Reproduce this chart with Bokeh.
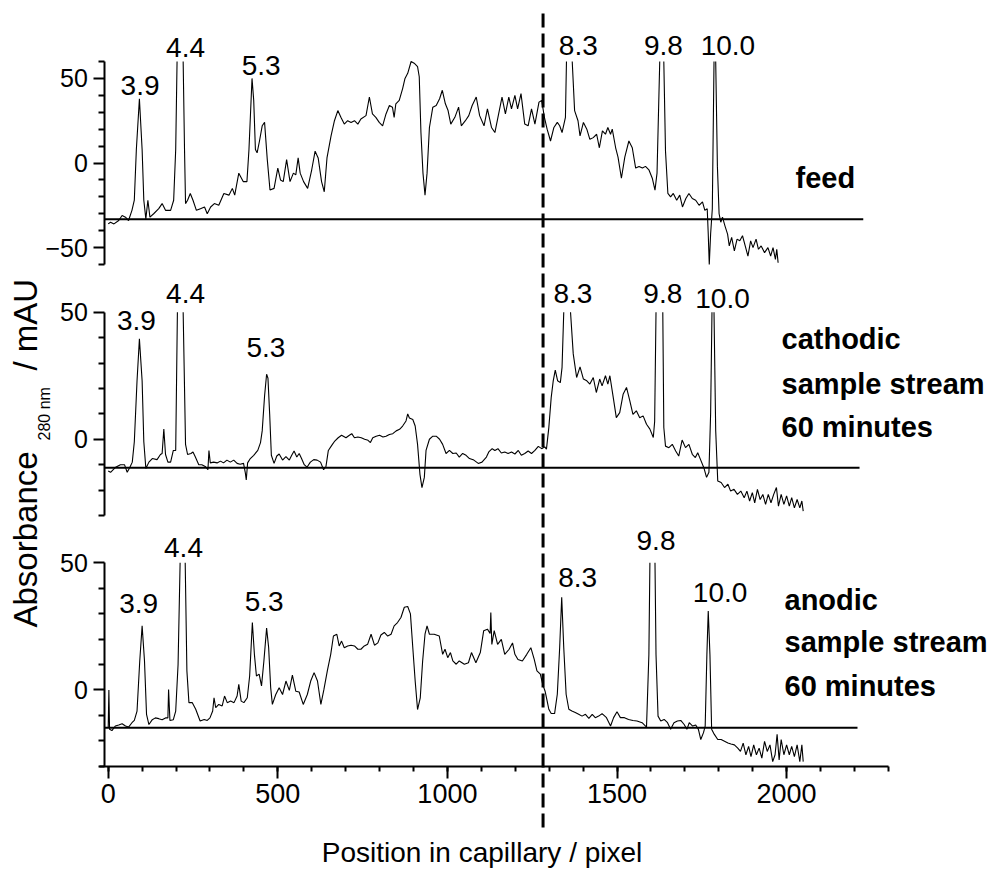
import math
import numpy as np
from bokeh.plotting import figure
from bokeh.models import Range1d, LinearAxis, FixedTicker, SingleIntervalTicker, Label
from bokeh.core.properties import value
from bokeh.embed import file_html
from bokeh.resources import INLINE

# ---------------- data (x = position in capillary / pixel, y = absorbance / mAU) ----------------
# None marks where a trace leaves the top of its panel (peak cut off by the axis limit)
feed_trace = [
    (0, -36), (7, -35), (17, -36), (31, -34), (41, -31), (51, -32), (60, -34), (70, -28), (77, -22),
    (83, 8), (92, 38), (100, 8), (105, -22), (111, -33), (117, -22), (123, -32), (134, -30), (149, -27),
    (159, -24), (169, -28), (184, -28), (193, -22), (199, 8), (203, 60), None, (221, 60), (225, 8),
    (228, -24), (234, -22), (242, -18), (250, -22), (260, -28), (272, -27), (284, -26), (292, -30),
    (302, -26), (313, -24), (326, -25), (341, -18), (356, -19), (366, -15), (373, -19), (385, -6),
    (398, -11), (409, -11), (415, 8), (424, 50), (429, 37), (434, 8), (439, 6), (446, 13), (454, 22),
    (461, 24), (469, 2), (477, -16), (489, -15), (500, -3), (508, -10), (516, -11), (526, 2), (536, -11),
    (546, -6), (553, -7), (560, 3), (566, -6), (576, -11), (588, -15), (600, -4), (610, 7), (619, 3),
    (629, -11), (637, -17), (645, 3), (657, 16), (667, 25), (677, 31), (686, 27), (696, 23), (706, 25),
    (716, 24), (726, 25), (736, 23), (745, 26), (760, 28), (770, 39), (779, 29), (789, 27), (799, 24),
    (809, 22), (819, 29), (829, 34), (838, 33), (843, 27), (848, 35), (858, 37), (868, 44), (875, 50),
    (883, 53), (893, 60), (902, 59), (912, 57), (917, 51), (922, 18), (928, -6), (934, -19), (940, -6),
    (947, 21), (957, 33), (967, 34), (977, 38), (985, 43), (994, 35), (1002, 31), (1010, 23), (1022, 27),
    (1033, 33), (1041, 22), (1053, 25), (1063, 28), (1073, 34), (1085, 39), (1095, 28), (1108, 22),
    (1118, 32), (1130, 21), (1140, 18), (1149, 27), (1161, 39), (1171, 29), (1181, 39), (1189, 32),
    (1199, 40), (1207, 32), (1217, 41), (1228, 23), (1238, 22), (1248, 32), (1258, 23), (1270, 36),
    (1278, 37), (1286, 27), (1294, 20), (1304, 13), (1314, 21), (1324, 24), (1331, 22), (1338, 18),
    (1348, 27), (1351, 60), None, (1368, 60), (1375, 31), (1385, 25), (1391, 16), (1401, 24), (1411, 20),
    (1420, 14), (1430, 15), (1440, 17), (1448, 9), (1457, 19), (1466, 17), (1473, 21), (1481, 17),
    (1486, 20), (1496, 9), (1503, 3.5), (1513, -9), (1523, 3.5), (1535, 13), (1545, 9), (1555, -3),
    (1565, -2), (1575, -3), (1584, -2), (1594, -4), (1604, -9), (1612, -16), (1618, -6), (1626, 60), None,
    (1638, 60), (1643, 7), (1650, -18), (1658, -20), (1666, -18), (1676, -22), (1685, -19), (1693, -26),
    (1703, -21), (1712, -18), (1722, -21), (1732, -22), (1742, -25), (1752, -23), (1759, -28), (1766, -27),
    (1769, -42), (1772, -60), (1776, -42), (1781, -27), (1786, 60), None, (1791, 60), (1796, -2),
    (1801, -30), (1806, -35), (1811, -32), (1818, -37), (1826, -42), (1831, -49), (1838, -44), (1846, -52),
    (1854, -45), (1862, -46), (1870, -43), (1878, -49), (1886, -55), (1894, -46), (1901, -50), (1910, -45),
    (1917, -51), (1925, -49), (1935, -53), (1945, -50), (1953, -55), (1960, -50), (1967, -57), (1971, -51),
    (1975, -59),
]

cathodic_trace = [
    (0, -12.5), (7, -13), (22, -11), (36, -10), (48, -10), (56, -13), (64, -11), (71, -9), (77, -1),
    (85, 23), (92, 39.5), (100, 23), (105, -1), (111, -11.5), (120, -9), (130, -7.6), (144, -8), (154, -6),
    (159, -5.6), (164, 4), (169, -6), (176, -9), (184, -9), (192, -4.4), (199, -4.4), (204, 50), None,
    (221, 50), (228, -2), (234, -6), (244, -5.6), (250, -5), (257, -7), (267, -10), (276, -10),
    (286, -10.7), (294, -12), (297, -4.4), (301, -9.3), (311, -9), (321, -9.3), (331, -8.6), (340, -9.3),
    (350, -8.2), (360, -9), (370, -8.2), (380, -9.5), (389, -9.8), (399, -9.5), (404, -13), (407, -16),
    (411, -9.3), (419, -7.6), (429, -6.3), (441, -4.4), (449, -1.3), (454, 3.3), (461, 17), (467, 25.6),
    (471, 24), (476, 10), (481, -6.3), (489, -9.5), (497, -6.6), (504, -5.8), (514, -8.2), (524, -6.8),
    (534, -8.2), (541, -6.3), (548, -4.6), (556, -7), (563, -5.6), (570, -7.6), (578, -10), (586, -11),
    (596, -9), (606, -8), (616, -8.2), (626, -9), (635, -12), (642, -10.7), (649, -4.4), (659, -2.4),
    (668, -0.7), (678, 0.6), (688, 1.6), (701, 0.6), (711, 1.6), (718, 2.2), (726, 0.6), (736, 0.9),
    (746, 0.6), (756, 0), (766, -0.4), (773, -1.3), (780, 0.6), (790, 1.2), (800, 1.6), (810, 0.9),
    (819, 1.2), (829, 1.9), (839, 2.2), (849, 3.3), (859, 3.9), (868, 5.2), (878, 7.2), (883, 10),
    (888, 8.4), (898, 7.8), (905, 5.2), (912, -2), (919, -13.7), (925, -19), (932, -15), (937, -4.4),
    (947, 0), (957, 1.2), (967, 1.2), (977, 0), (986, -2), (996, -5.6), (1006, -4.4), (1016, -5.6),
    (1026, -5.4), (1035, -7), (1045, -5.6), (1055, -6.3), (1065, -7.6), (1078, -8.2), (1091, -9.5),
    (1102, -9), (1115, -7), (1122, -5), (1132, -3.7), (1140, -4.4), (1149, -3.7), (1159, -5.4),
    (1169, -5), (1179, -5.6), (1189, -5), (1199, -5.8), (1209, -4.4), (1218, -6.3), (1228, -5.6),
    (1238, -4.6), (1248, -5.6), (1258, -4.4), (1268, -2.8), (1278, -3.7), (1287, -3), (1292, -3.9),
    (1299, 4.6), (1306, 16.4), (1312, 23), (1318, 27.2), (1325, 23), (1333, 22.3), (1338, 28.3),
    (1343, 50), None, (1363, 50), (1371, 33.6), (1381, 24.3), (1391, 28.5), (1401, 23.7), (1411, 23),
    (1420, 21.7), (1430, 24.3), (1439, 18.4), (1449, 23.7), (1456, 21), (1466, 25), (1473, 21.7),
    (1479, 25), (1489, 16.4), (1498, 8.5), (1508, 10.5), (1518, 17.7), (1528, 20.4), (1538, 15),
    (1547, 9.8), (1557, 11.2), (1567, 8.5), (1577, 9.2), (1587, 5.9), (1597, 4), (1607, 0.7), (1611, 7),
    (1615, 50), None, (1635, 50), (1638, 4.6), (1643, -2.7), (1653, -3.3), (1663, -2), (1673, -4.6),
    (1682, -6.6), (1692, -0.3), (1702, -3.3), (1712, -2), (1722, -5.9), (1731, -7.2), (1738, -5.3),
    (1746, -7.9), (1756, -11.2), (1764, -15), (1771, -13), (1776, 10), (1780, 50), None, (1786, 50),
    (1791, 3.3), (1797, -16.4), (1807, -17), (1817, -19), (1827, -17.7), (1835, -20.4), (1845, -19.7),
    (1855, -21.7), (1865, -20.4), (1875, -23), (1883, -20.4), (1891, -24.3), (1899, -21), (1906, -25),
    (1914, -19.7), (1922, -23.7), (1930, -21.7), (1938, -25.6), (1946, -21.7), (1954, -25), (1962, -21.7),
    (1970, -19), (1976, -26.3), (1984, -21.7), (1992, -25.6), (2000, -22.3), (2008, -26.3), (2015, -23),
    (2023, -27), (2031, -23.7), (2039, -27), (2045, -24.3), (2049, -28.3),
]

anodic_trace = [
    (0, -15), (2, 0), (4, -15.5), (11, -16), (21, -14.2), (31, -13.8), (41, -13.3), (51, -14.2),
    (60, -14.6), (70, -12.9), (77, -12), (85, -8.3), (93, 11.4), (100, 25.2), (107, 11.4), (113, -9.6),
    (120, -13.6), (130, -11.7), (139, -11), (149, -11.3), (159, -11.7), (169, -11), (176, -11), (178, 0.2),
    (182, -12), (192, -11.7), (199, -8.3), (206, 10), (212, 50), None, (227, 50), (232, 7.5), (238, -5),
    (248, -5), (258, -7.6), (271, -12.2), (283, -11.6), (292, -12), (300, -11), (308, -8.3), (312, -3.1),
    (317, -7), (326, -5.7), (336, -6.3), (343, -2.4), (351, -5), (361, -4.4), (371, -5), (380, -2.4),
    (385, 2.2), (392, -4.4), (400, -5), (410, -3.1), (417, 5.5), (425, 26.5), (431, 14), (437, 5.5),
    (445, 6.2), (452, 1.6), (459, 11.4), (467, 24.3), (473, 16.7), (479, 0.9), (484, -5.7), (494, -1.8),
    (504, 0.9), (514, -1.8), (524, 3.5), (534, -0.2), (543, 5.8), (553, -0.5), (563, -0.8), (575, -5.7),
    (587, -1.8), (597, 3.5), (607, 6.8), (617, 3.5), (627, -5.7), (636, 0.2), (646, 7.5), (656, 14),
    (664, 21.2), (674, 21.9), (681, 17.3), (688, 19.2), (696, 16.6), (706, 17.3), (716, 17.6), (726, 17.3),
    (736, 16), (745, 16), (755, 17.3), (765, 18), (775, 21.9), (785, 17.6), (795, 18.5), (804, 21.6),
    (814, 22.6), (824, 21.2), (834, 21.9), (843, 25.2), (853, 26.5), (863, 28.5), (873, 32.5), (883, 32.8),
    (891, 29.9), (898, 16.6), (905, 3.5), (912, -7.7), (920, -3.1), (927, 11.4), (934, 21.9), (940, 25.2),
    (947, 21.9), (961, 21.9), (976, 21.2), (986, 14), (993, 16), (1001, 12.7), (1009, 14.7), (1016, 11.4),
    (1026, 10.1), (1035, 11.4), (1050, 10.1), (1062, 10.7), (1071, 14.7), (1084, 10.7), (1097, 14.7),
    (1107, 23.3), (1118, 23.9), (1126, 22.2), (1128, 30.4), (1131, 17.9), (1138, 23.3), (1148, 17.9),
    (1159, 19.9), (1169, 14), (1182, 16), (1192, 18.5), (1199, 14), (1208, 12), (1221, 11.4), (1234, 14),
    (1246, 16.6), (1256, 12), (1264, 7.5), (1274, 6.2), (1281, 2.2), (1288, -0.5), (1294, -4.3),
    (1299, -7.6), (1306, -9.3), (1316, -9.3), (1324, -1.7), (1331, 16.7), (1337, 36.4), (1343, 16.7),
    (1350, -1.7), (1358, -7.6), (1367, -8.3), (1377, -8.9), (1387, -9.6), (1397, -10.3), (1407, -9.6),
    (1417, -11.2), (1427, -9.6), (1436, -10.9), (1446, -10.3), (1456, -9.3), (1469, -10.9), (1481, -14.2),
    (1490, -10.9), (1500, -8.6), (1510, -10.9), (1522, -10.9), (1534, -11.6), (1547, -12), (1559, -12.2),
    (1574, -12.9), (1587, -14.6), (1594, 13.9), (1597, 50), None, (1612, 50), (1615, 13.9), (1621, -10.3),
    (1629, -12.2), (1639, -11.6), (1649, -12.9), (1658, -15.5), (1668, -12.9), (1678, -12.2), (1688, -12),
    (1698, -13.6), (1706, -15.5), (1713, -12.9), (1723, -14.2), (1732, -13.8), (1740, -15.5), (1747, -19.5),
    (1755, -16.8), (1760, -14.2), (1765, 13.9), (1769, 31), (1774, 13.9), (1779, -15.5), (1787, -17.5),
    (1797, -19.5), (1807, -19.5), (1817, -20.2), (1827, -20.9), (1836, -21.3), (1846, -21.6), (1856, -22.9),
    (1864, -24.2), (1872, -20.9), (1880, -25.5), (1888, -22.2), (1895, -26.2), (1903, -21.6), (1911, -25.5),
    (1919, -22.9), (1927, -26.8), (1935, -20.2), (1943, -24.2), (1951, -21.6), (1959, -28.2), (1966, -25.5),
    (1972, -17.5), (1978, -27.5), (1984, -19.5), (1992, -25.5), (2000, -21.6), (2008, -25.5), (2015, -22.2),
    (2023, -26.2), (2031, -21.6), (2039, -28.2), (2045, -21.6), (2049, -28.2),
]

# reference baselines drawn under each trace
baseline_start = -10
baseline_ends = [2226, 2215, 2209]
baseline_levels = [-33.3, -11.2, -14.9]

# pI peak labels
peak_labels = ["3.9", "4.4", "5.3", "8.3", "9.8", "10.0"]
feed_label_x = [94, 228, 451, 1386, 1637, 1827]
feed_label_y = [40, 62.6, 51.8, 63.6, 63.6, 63.6]
cath_label_x = [83, 228, 465, 1370, 1635, 1811]
cath_label_y = [42.8, 53.3, 32, 53.3, 53.3, 51.3]
anod_label_x = [90, 222, 460, 1384, 1615, 1804]
anod_label_y = [29.9, 52.2, 30.9, 40.4, 54.9, 34.5]

# sample names
feed_name = ["feed"]
cath_name = ["cathodic", "sample stream", "60 minutes"]
anod_name = ["anodic", "sample stream", "60 minutes"]
feed_name_y = [-15.1]
cath_name_y = [35.5, 17.8, 0.6]
anod_name_y = [31.2, 14.7, -2.4]

divider_x = 1282            # dashed marker position
x_ticks_interval = 500
x_axis_max = 2300
panel1_ticks = [-50, 0, 50]
panel23_ticks = [0, 50]

# ---------------- layout geometry (pixels) ----------------
W, H = 1000, 871
X0_PX, XS = 107.7, 0.3392
PANELS = {  # name: (vmin, vmax, top_px, bottom_px)
    "p1": (-60, 60, 61.0, 264.0),
    "p2": (-30, 50, 311.7, 515.0),
    "p3": (-30, 50, 562.3, 765.7),
}
BASE_SHIFT = 0.36   # measured: alphabetic-baseline text lands this many em too low


def scale_of(name):
    vmin, vmax, top, bot = PANELS[name]
    return (bot - top) / (vmax - vmin)


def yrange(name):
    vmin, vmax, top, bot = PANELS[name]
    s = scale_of(name)
    return Range1d(vmin - (H - bot) / s, vmax + top / s)


def px_to_x(px):
    return (px - X0_PX) / XS


def py_to_v(py, name):
    vmin, vmax, top, bot = PANELS[name]
    return vmax - (py - top) / scale_of(name)


def split(trace):
    xs, ys = [], []
    for pt in trace:
        if pt is None:
            xs.append(np.nan)
            ys.append(np.nan)
        else:
            xs.append(pt[0])
            ys.append(pt[1])
    return np.array(xs, dtype=float), np.array(ys, dtype=float)


FONT = "Liberation Sans"

p = figure(width=W, height=H, x_range=Range1d(px_to_x(0), px_to_x(W)), y_range=yrange("p3"),
           x_axis_type=None, y_axis_type=None, toolbar_location=None, output_backend="svg",
           min_border=0, min_border_left=0, min_border_right=0, min_border_top=0, min_border_bottom=0)
p.outline_line_color = None
p.background_fill_color = "white"
p.border_fill_color = "white"
p.extra_y_ranges = {"p1": yrange("p1"), "p2": yrange("p2"), "p3": yrange("p3")}

# ---------------- axes ----------------
def style_axis(ax, major_out, label_size):
    ax.axis_line_width = 2
    ax.axis_line_color = "black"
    ax.major_tick_line_width = 2
    ax.minor_tick_line_width = 2
    ax.major_tick_out = major_out
    ax.major_tick_in = 0
    ax.minor_tick_out = 6
    ax.minor_tick_in = 0
    ax.major_label_text_font = FONT
    ax.major_label_text_font_size = label_size
    ax.major_label_text_color = "black"


yaxes = [
    ("p1", (-60, 60), panel1_ticks, [-60, -40, -30, -20, -10, 10, 20, 30, 40, 60]),
    ("p2", (-30, 50), panel23_ticks, [-30, -20, -10, 10, 20, 30, 40]),
    ("p3", (-30, 50), panel23_ticks, [-30, -20, -10, 10, 20, 30, 40]),
]
for name, bnds, ticks, minor in yaxes:
    ax = LinearAxis(y_range_name=name, fixed_location=-10, bounds=bnds,
                    ticker=FixedTicker(ticks=ticks, minor_ticks=minor))
    style_axis(ax, 11, "25px")
    ax.major_label_standoff = 6
    p.add_layout(ax, "left")

xax = LinearAxis(y_range_name="p3", fixed_location=-30, bounds=(-25, x_axis_max),
                 ticker=SingleIntervalTicker(interval=x_ticks_interval, num_minor_ticks=5))
style_axis(xax, 12, "27px")
xax.minor_tick_out = 5
xax.major_label_standoff = 6
p.add_layout(xax, "below")

# ---------------- marks ----------------
traces = [("p1", feed_trace), ("p2", cathodic_trace), ("p3", anodic_trace)]
for i, (name, tr) in enumerate(traces):
    p.line([baseline_start, baseline_ends[i]], [baseline_levels[i], baseline_levels[i]],
           y_range_name=name, line_color="black", line_width=2)
    xs, ys = split(tr)
    p.line(xs, ys, y_range_name=name, line_color="black", line_width=1.1)

# dashed divider across all panels
p.line([divider_x, divider_x], [py_to_v(13, "p1"), py_to_v(827, "p1")], y_range_name="p1",
       line_color="black", line_width=3, line_dash="14 6")

# peak labels
PEAK_FS = 28
for name, lx, ly in [("p1", feed_label_x, feed_label_y), ("p2", cath_label_x, cath_label_y),
                     ("p3", anod_label_x, anod_label_y)]:
    p.text(x=lx, y=ly, text=peak_labels, y_range_name=name, text_align="center",
           text_baseline="alphabetic", text_font=value(FONT), text_font_size=f"{PEAK_FS}px",
           text_color="black", y_offset=-BASE_SHIFT * PEAK_FS)

# sample names
NAME_FS = 29
for name, texts, ys, left_px in [("p1", feed_name, feed_name_y, 795), ("p2", cath_name, cath_name_y, 781),
                                 ("p3", anod_name, anod_name_y, 784)]:
    p.text(x=[px_to_x(left_px)] * len(texts), y=ys, text=texts, y_range_name=name, text_align="left",
           text_baseline="alphabetic", text_font=value(FONT), text_font_style="bold",
           text_font_size=f"{NAME_FS}px", text_color="black", y_offset=-BASE_SHIFT * NAME_FS)

# axis titles
XT_FS = 28
p.add_layout(Label(x=px_to_x(481.5), y=py_to_v(862.5 - BASE_SHIFT * XT_FS, "p3"), y_range_name="p3",
                   text="Position in capillary / pixel", text_align="center", text_baseline="alphabetic",
                   text_font=FONT, text_font_size=f"{XT_FS}px", text_color="black"))
for txt, py, bx, fs in [("Absorbance", 627, 37, 33), ("280 nm", 440, 50, 16), ("/ mAU", 370, 37, 33)]:
    p.add_layout(Label(x=px_to_x(bx - BASE_SHIFT * fs), y=py_to_v(py, "p2"), y_range_name="p2", text=txt,
                       angle=math.pi / 2, text_align="left", text_baseline="alphabetic",
                       text_font=FONT, text_font_size=f"{fs}px", text_color="black"))

open("out.html", "w").write(file_html(p, INLINE))
